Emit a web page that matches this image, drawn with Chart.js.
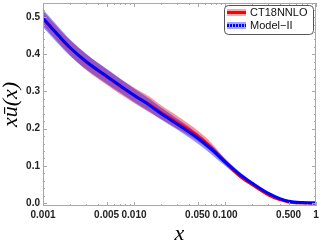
<!DOCTYPE html>
<html lang="en">
<head>
<meta charset="UTF-8">
<title>x ubar(x)</title>
<script src="https://cdn.jsdelivr.net/npm/chart.js"></script>
<style>
  html, body { margin: 0; padding: 0; background: #fff; }
</style>
</head>
<body>
<canvas id="pdfChart" width="320" height="249"></canvas>
<script>
// x values (log scale)
const xs     = [0.001, 0.0015, 0.002, 0.003, 0.005, 0.007, 0.01, 0.015, 0.02, 0.03, 0.05, 0.07, 0.1, 0.15, 0.2, 0.3, 0.4, 0.5, 0.7, 1];
// Model-II: central value and band
const m2Mid  = [0.497, 0.449, 0.417, 0.380, 0.341, 0.316, 0.290, 0.262, 0.240, 0.212, 0.175, 0.146, 0.111, 0.074, 0.053, 0.026, 0.012, 0.005, 0.0012, 0.000];
const m2Hi   = [0.521, 0.472, 0.439, 0.401, 0.361, 0.335, 0.308, 0.279, 0.256, 0.227, 0.188, 0.157, 0.120, 0.081, 0.058, 0.029, 0.014, 0.0065, 0.0022, 0.001];
const m2Lo   = [0.473, 0.426, 0.395, 0.359, 0.321, 0.297, 0.272, 0.245, 0.224, 0.197, 0.160, 0.132, 0.100, 0.066, 0.048, 0.023, 0.010, 0.0035, 0.0002, -0.001];
// CT18NNLO: central value and band
const ctMid  = [0.497, 0.449, 0.417, 0.379, 0.340, 0.315, 0.290, 0.264, 0.243, 0.216, 0.180, 0.150, 0.111, 0.070, 0.049, 0.022, 0.009, 0.003, 0.0002, 0.000];
const ctHi   = [0.516, 0.468, 0.437, 0.400, 0.360, 0.335, 0.311, 0.285, 0.262, 0.234, 0.195, 0.163, 0.119, 0.075, 0.053, 0.025, 0.011, 0.004, 0.0007, 0.000];
const ctLo   = [0.478, 0.430, 0.397, 0.357, 0.318, 0.293, 0.269, 0.243, 0.225, 0.200, 0.167, 0.139, 0.103, 0.065, 0.045, 0.019, 0.007, 0.002, 0.000, 0.000];

const xTickValues = [0.001, 0.005, 0.01, 0.05, 0.1, 0.5, 1];
const xTickLabels = ['0.001', '0.005', '0.010', '0.050', '0.100', '0.500', '1'];
const yTickValues = [0, 0.1, 0.2, 0.3, 0.4, 0.5];
const yTickLabels = ['0.0', '0.1', '0.2', '0.3', '0.4', '0.5'];

const seriesNames = ['CT18NNLO', 'Model\u2212II'];

const RED = 'rgb(255,0,0)';
const BLUE = 'rgb(0,0,255)';
const RED_BAND = 'rgba(255,0,0,0.42)';
const BLUE_BAND = 'rgba(0,0,255,0.42)';

const pts = ys => xs.map((x, i) => ({x: x, y: ys[i]}));

function bandEdge(ys, order, fill, color) {
    return {
        data: pts(ys), order: order, fill: fill,
        backgroundColor: color, borderColor: 'transparent', borderWidth: 0,
        pointRadius: 0, cubicInterpolationMode: 'monotone'
    };
}

// frame with inward ticks, Mathematica style
const framePlugin = {
    id: 'frame',
    afterDraw(chart) {
        const {ctx, chartArea: a, scales} = chart;
        const sx = scales.x, sy = scales.y;
        ctx.save();
        ctx.strokeStyle = '#a8a8a8';
        ctx.lineWidth = 1;
        ctx.strokeRect(a.left + 0.5, a.top + 0.5, a.right - a.left - 1, a.bottom - a.top - 1);
        ctx.beginPath();
        for (let e = -3; e <= 0; e++) {
            for (let k = 1; k <= 9; k++) {
                const v = k * Math.pow(10, e);
                if (v > 1.0001) break;
                const px = Math.round(sx.getPixelForValue(v)) + 0.5;
                const len = (k === 1 || k === 5) ? 4 : 2;
                ctx.moveTo(px, a.bottom); ctx.lineTo(px, a.bottom - len);
                ctx.moveTo(px, a.top); ctx.lineTo(px, a.top + len);
            }
        }
        for (let j = 0; j <= 26; j++) {
            const v = j * 0.02;
            const py = Math.round(sy.getPixelForValue(v)) + 0.5;
            const len = (j % 5 === 0) ? 4 : 2;
            ctx.moveTo(a.left, py); ctx.lineTo(a.left + len, py);
            ctx.moveTo(a.right, py); ctx.lineTo(a.right - len, py);
        }
        ctx.stroke();

        // legend box
        const bx = 224.5, by = 5.5, bw = 89, bh = 29;
        ctx.fillStyle = '#fff';
        ctx.strokeStyle = '#555';
        ctx.beginPath();
        ctx.roundRect(bx, by, bw, bh, 4);
        ctx.fill();
        ctx.stroke();
        const rows = [
            {label: seriesNames[0], line: RED, band: 'rgba(255,0,0,0.35)', dash: [], y: 12.5},
            {label: seriesNames[1], line: BLUE, band: 'rgba(0,0,255,0.35)', dash: [2, 1], y: 25.5}
        ];
        rows.forEach(r => {
            ctx.fillStyle = r.band;
            ctx.fillRect(227, r.y - 3.5, 19, 7);
            ctx.strokeStyle = r.line;
            ctx.lineWidth = 3;
            ctx.setLineDash(r.dash);
            ctx.beginPath();
            ctx.moveTo(227, r.y); ctx.lineTo(246, r.y);
            ctx.stroke();
            ctx.setLineDash([]);
            ctx.fillStyle = '#111';
            ctx.font = '11px "Liberation Sans", Arial, sans-serif';
            ctx.textBaseline = 'middle';
            ctx.textAlign = 'left';
            ctx.fillText(r.label, 250, r.y);
        });
        ctx.restore();
    }
};

const tickFont = {family: '"Liberation Sans", Arial, sans-serif', size: 10, weight: 'bold'};
const titleFont = {family: '"Liberation Serif", "DejaVu Serif", serif', size: 22, style: 'italic', lineHeight: 1};

new Chart(document.getElementById('pdfChart'), {
    type: 'line',
    data: {
        datasets: [
            {label: seriesNames[1], data: pts(m2Mid), order: 0, borderColor: BLUE, borderWidth: 3,
             pointRadius: 0, fill: false, cubicInterpolationMode: 'monotone'},
            {label: seriesNames[0], data: pts(ctMid), order: 1, borderColor: RED, borderWidth: 3,
             pointRadius: 0, fill: false, cubicInterpolationMode: 'monotone'},
            bandEdge(m2Hi, 2, '+1', BLUE_BAND),
            bandEdge(m2Lo, 3, false, BLUE_BAND),
            bandEdge(ctHi, 4, '+1', RED_BAND),
            bandEdge(ctLo, 5, false, RED_BAND)
        ]
    },
    options: {
        responsive: false,
        animation: false,
        layout: {padding: {top: 3, right: 4, left: 0, bottom: 0}},
        plugins: {legend: {display: false}, tooltip: {enabled: false}},
        scales: {
            x: {
                type: 'logarithmic', min: 0.001, max: 1,
                grid: {display: false, drawTicks: false},
                border: {display: false},
                ticks: {
                    autoSkip: false, maxRotation: 0, minRotation: 0, padding: 3,
                    color: '#222', font: tickFont,
                    callback: (v, i) => xTickLabels[i]
                },
                afterBuildTicks: s => { s.ticks = xTickValues.map(v => ({value: v})); },
                afterFit: s => { s.height = 43; s.paddingLeft = 0; s.paddingRight = 0; },
                title: {display: true, text: 'x', color: '#000', font: titleFont, padding: {top: 0, bottom: 4}}
            },
            y: {
                min: -0.008, max: 0.538,
                grid: {display: false, drawTicks: false},
                border: {display: false},
                ticks: {
                    autoSkip: false, padding: 3, color: '#222', font: tickFont,
                    callback: (v, i) => yTickLabels[i]
                },
                afterBuildTicks: s => { s.ticks = yTickValues.map(v => ({value: v})); },
                afterFit: s => { s.width = 43; s.paddingTop = 0; s.paddingBottom = 0; },
                title: {display: true, text: 'x\u016B(x)', color: '#000', font: titleFont, padding: {top: 0, bottom: 0}}
            }
        }
    },
    plugins: [framePlugin]
});
</script>
</body>
</html>
